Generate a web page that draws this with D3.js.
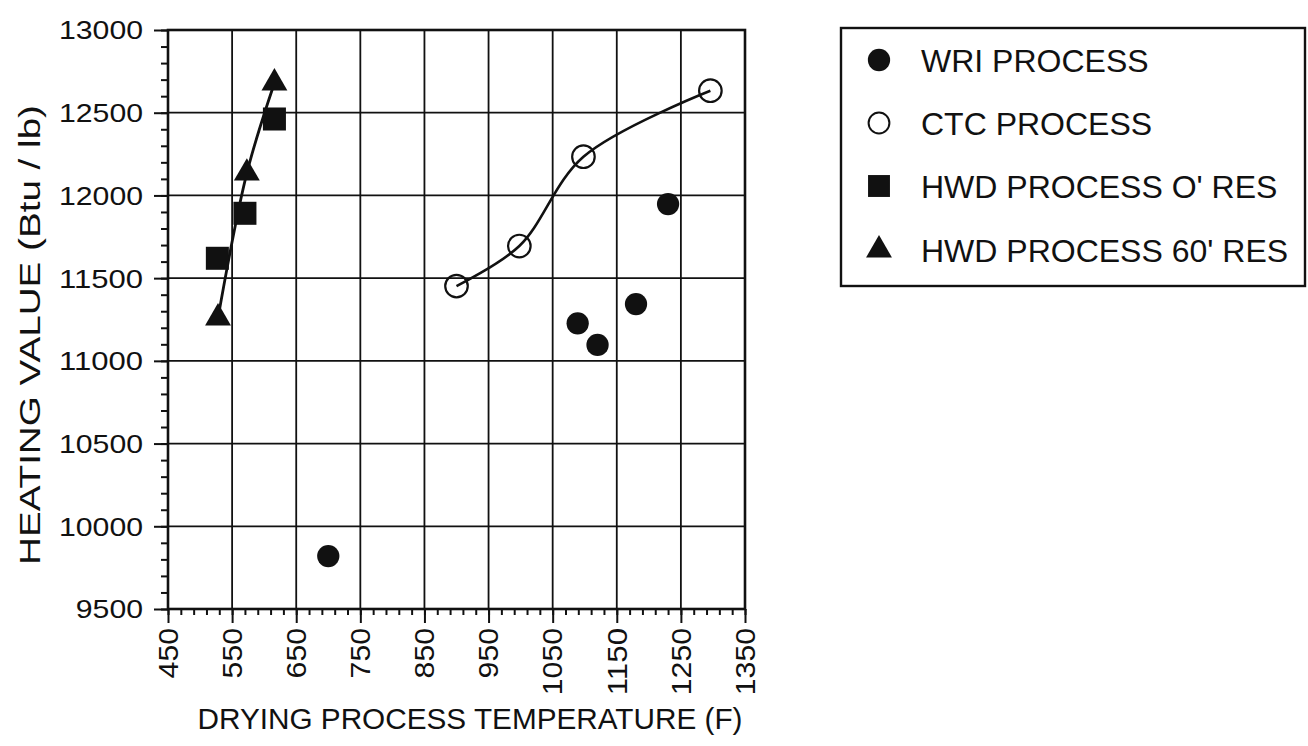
<!DOCTYPE html>
<html>
<head>
<meta charset="utf-8">
<script src="https://cdn.jsdelivr.net/npm/d3@7"></script>
<style>
  html, body { margin: 0; padding: 0; background: #fff; }
  svg { display: block; }
  text { font-family: "Liberation Sans", Arial, Helvetica, sans-serif; fill: #111; }
</style>
</head>
<body>
<svg id="chart" width="1308" height="746"></svg>
<script>
// Drying temperature (F) vs. heating value (Btu/lb) for four processes
const wriTemp = [700, 1089, 1120, 1180, 1230];
const wriHeat = [9820, 11227, 11096, 11343, 11948];

const ctcTemp = [900, 998, 1098, 1296];
const ctcHeat = [11452, 11694, 12234, 12633];

const hwd0Temp = [527, 570, 616];
const hwd0Heat = [11620, 11892, 12462];

const hwd60Temp = [528, 573, 616];
const hwd60Heat = [11259, 12135, 12680];

const xTicks = [450, 550, 650, 750, 850, 950, 1050, 1150, 1250, 1350];
const yTicks = [9500, 10000, 10500, 11000, 11500, 12000, 12500, 13000];

const legendLabels = ["WRI PROCESS", "CTC PROCESS", "HWD PROCESS O' RES", "HWD PROCESS 60' RES"];

const xTitle = "DRYING PROCESS TEMPERATURE (F)";
const yTitle = "HEATING VALUE (Btu / lb)";

const ink = "#111";
const svg = d3.select("#chart");

const plotL = 168, plotR = 745, plotT = 30, plotB = 609;
const x = d3.scaleLinear().domain([450, 1350]).range([plotL, plotR]);
const y = d3.scaleLinear().domain([9500, 13000]).range([plotB, plotT]);

const zip = (a, b) => a.map((v, i) => [v, b[i]]);

// grid
const grid = svg.append("g").attr("stroke", ink).attr("stroke-width", 1.8);
grid.selectAll("line.v").data(xTicks.slice(1, -1)).join("line")
  .attr("x1", d => x(d)).attr("x2", d => x(d)).attr("y1", plotT).attr("y2", plotB);
grid.selectAll("line.h").data(yTicks.slice(1, -1)).join("line")
  .attr("x1", plotL).attr("x2", plotR).attr("y1", d => y(d)).attr("y2", d => y(d));

// axes with major and minor ticks
const xAxisMinor = d3.axisBottom(x).tickValues(d3.range(450, 1351, 20)).tickSize(6).tickFormat("");
const xAxisMajor = d3.axisBottom(x).tickValues(xTicks).tickSize(14).tickFormat("");
const yAxisMinor = d3.axisLeft(y).tickValues(d3.range(9500, 13001, 100)).tickSize(7).tickFormat("");
const yAxisMajor = d3.axisLeft(y).tickValues(yTicks).tickSize(14).tickFormat("");

[xAxisMinor, xAxisMajor].forEach(ax => {
  const g = svg.append("g").attr("transform", `translate(0,${plotB})`).call(ax);
  g.select(".domain").remove();
  g.selectAll("line").attr("stroke", ink).attr("stroke-width", 2);
});
[yAxisMinor, yAxisMajor].forEach(ax => {
  const g = svg.append("g").attr("transform", `translate(${plotL},0)`).call(ax);
  g.select(".domain").remove();
  g.selectAll("line").attr("stroke", ink).attr("stroke-width", 2);
});

// tick labels
svg.append("g").selectAll("text").data(yTicks).join("text")
  .attr("x", 143).attr("y", d => y(d)).attr("dy", "0.36em")
  .attr("text-anchor", "end").attr("font-size", 26)
  .attr("textLength", d => String(d).length * 16.8).attr("lengthAdjust", "spacingAndGlyphs")
  .text(d => d);

svg.append("g").selectAll("text").data(xTicks).join("text")
  .attr("transform", d => `translate(${x(d)},628) rotate(-90)`)
  .attr("dy", "0.36em").attr("text-anchor", "end").attr("font-size", 27)
  .attr("textLength", d => String(d).length * 16.8).attr("lengthAdjust", "spacingAndGlyphs")
  .text(d => d);

// axis titles
svg.append("text")
  .attr("x", 470).attr("y", 729).attr("text-anchor", "middle").attr("font-size", 29)
  .attr("textLength", 545).attr("lengthAdjust", "spacingAndGlyphs")
  .text(xTitle);

svg.append("text")
  .attr("transform", "translate(40,335) rotate(-90)")
  .attr("text-anchor", "middle").attr("font-size", 29)
  .attr("textLength", 460).attr("lengthAdjust", "spacingAndGlyphs")
  .text(yTitle);

// fitted curves
const curve = d3.line().x(d => x(d[0])).y(d => y(d[1])).curve(d3.curveCatmullRom.alpha(0.5));
svg.append("path").datum(zip(ctcTemp, ctcHeat))
  .attr("d", curve).attr("fill", "none").attr("stroke", ink).attr("stroke-width", 2.6);
svg.append("path").datum(zip(hwd60Temp, hwd60Heat))
  .attr("d", curve).attr("fill", "none").attr("stroke", ink).attr("stroke-width", 2.8);

// markers
const sym = (type, size) => d3.symbol().type(type).size(size)();
const markers = [
  { t: wriTemp, h: wriHeat, path: sym(d3.symbolCircle, 390), fill: ink, stroke: "none" },
  { t: ctcTemp, h: ctcHeat, path: sym(d3.symbolCircle, 400), fill: "none", stroke: ink },
  { t: hwd0Temp, h: hwd0Heat, path: sym(d3.symbolSquare, 530), fill: ink, stroke: "none" },
  { t: hwd60Temp, h: hwd60Heat, path: sym(d3.symbolTriangle, 290), fill: ink, stroke: "none" }
];
markers.forEach(m => {
  svg.append("g").selectAll("path").data(zip(m.t, m.h)).join("path")
    .attr("transform", d => `translate(${x(d[0])},${y(d[1])})`)
    .attr("d", m.path).attr("fill", m.fill)
    .attr("stroke", m.stroke).attr("stroke-width", 2.2);
});

// plot frame
svg.append("rect")
  .attr("x", plotL).attr("y", plotT).attr("width", plotR - plotL).attr("height", plotB - plotT)
  .attr("fill", "none").attr("stroke", ink).attr("stroke-width", 2.6);

// legend
const legend = svg.append("g");
legend.append("rect")
  .attr("x", 841).attr("y", 28).attr("width", 464).attr("height", 258)
  .attr("fill", "none").attr("stroke", ink).attr("stroke-width", 2.4);
const legendRows = [60, 123, 186, 250];
const legendSyms = [
  { path: sym(d3.symbolCircle, 390), fill: ink, stroke: "none" },
  { path: sym(d3.symbolCircle, 340), fill: "none", stroke: ink },
  { path: sym(d3.symbolSquare, 480), fill: ink, stroke: "none" },
  { path: sym(d3.symbolTriangle, 290), fill: ink, stroke: "none" }
];
legendLabels.forEach((label, i) => {
  const s = legendSyms[i];
  legend.append("path")
    .attr("transform", `translate(879,${legendRows[i]})`)
    .attr("d", s.path).attr("fill", s.fill).attr("stroke", s.stroke).attr("stroke-width", 2);
  legend.append("text")
    .attr("x", 921).attr("y", legendRows[i]).attr("dy", "0.36em")
    .attr("font-size", 32).text(label);
});
</script>
</body>
</html>
